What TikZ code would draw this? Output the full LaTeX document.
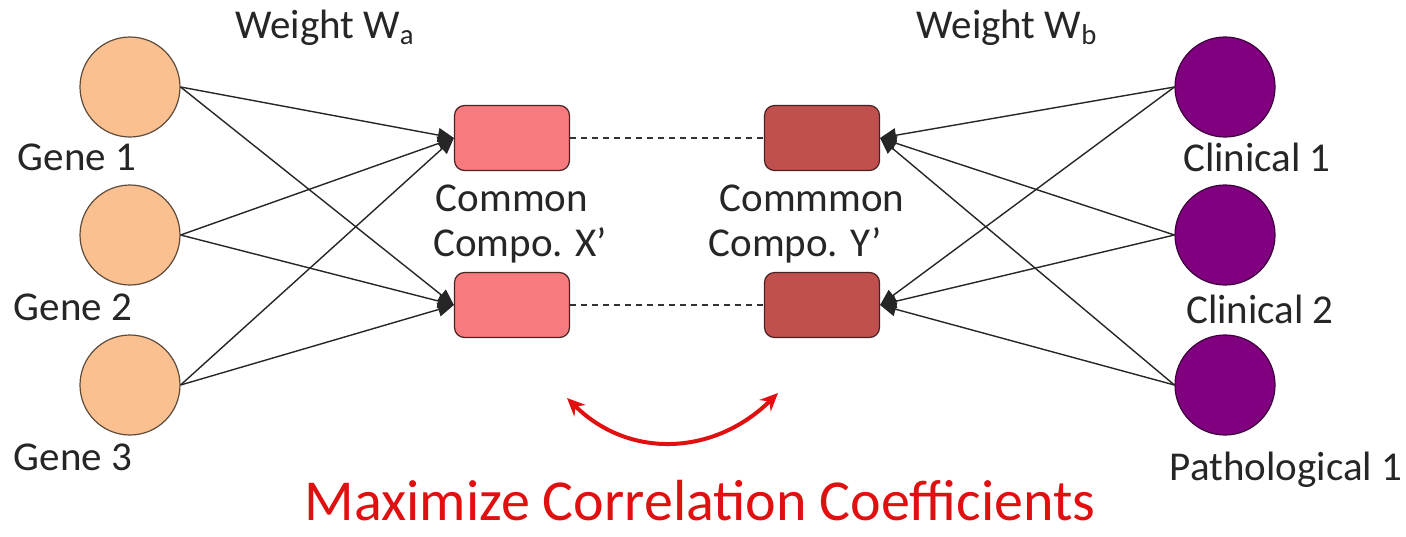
\documentclass[tikz,border=0pt]{standalone}
\usepackage{fontspec}
\setmainfont{Carlito}
\usetikzlibrary{arrows.meta}
\definecolor{geneor}{HTML}{FAC08F}
\definecolor{geneline}{HTML}{5E4B3C}
\definecolor{boxa}{HTML}{F77B7E}
\definecolor{boxb}{HTML}{C0504D}
\definecolor{boxline}{HTML}{4A2222}
\definecolor{purp}{HTML}{800080}
\definecolor{purpline}{HTML}{3D003D}
\definecolor{txt}{HTML}{262626}
\definecolor{redc}{HTML}{E01010}
\tikzset{
  genenode/.style={circle,draw=geneline,line width=0.6pt,fill=geneor,minimum size=50pt,inner sep=0pt},
  clinnode/.style={circle,draw=purpline,line width=0.6pt,fill=purp,minimum size=50pt,inner sep=0pt},
  compbox/.style={rectangle,rounded corners=5pt,draw=boxline,line width=0.6pt,minimum width=57.5pt,minimum height=32.5pt,inner sep=0pt},
  lbl/.style={text=txt,font=\fontsize{20.5}{24}\selectfont,inner sep=0pt},
  wire/.style={draw=black!85,line width=0.7pt,-{Triangle[length=8pt,width=7pt]}},
  dashline/.style={draw=black!80,line width=0.65pt,dash pattern=on 3pt off 2.5pt}
}
\begin{document}
\begin{tikzpicture}[x=0.5pt,y=-0.5pt]
\useasboundingbox[fill=white] (0,0) rectangle (1406,536);
% gene nodes
\node[genenode] (g1) at (130,87) {};
\node[genenode] (g2) at (130,235) {};
\node[genenode] (g3) at (130,385) {};
\node[lbl] (lg1) at (77,157) {Gene 1};
\node[lbl] (lg2) at (73,307) {Gene 2};
\node[lbl] (lg3) at (73,457) {Gene 3};
% clinical nodes
\node[clinnode] (c1) at (1225,87) {};
\node[clinnode] (c2) at (1225,235) {};
\node[clinnode] (c3) at (1225,385) {};
\node[lbl] (lc1) at (1257,157) {Clinical 1};
\node[lbl] (lc2) at (1260,309) {Clinical 2};
\node[lbl] (lc3) at (1286,470) {Pathological 1};
% component boxes
\node[compbox,fill=boxa] (x1) at (512,138) {};
\node[compbox,fill=boxa] (x2) at (512,305) {};
\node[compbox,fill=boxb] (y1) at (822,138) {};
\node[compbox,fill=boxb] (y2) at (822,305) {};
\node[lbl] (lx1) at (512,198) {Common};
\node[lbl] (lx2) at (520,245) {Compo. X’};
\node[lbl] (ly1) at (812,198) {Commmon};
\node[lbl] (ly2) at (795,245) {Compo. Y’};
% weights
\node[lbl] (wa) at (325,28) {Weight W\textsubscript{a}};
\node[lbl] (wb) at (1007,28) {Weight W\textsubscript{b}};
% connectors left
\foreach \g in {g1,g2,g3}{
  \draw[wire] (\g.east) -- (x1.west);
  \draw[wire] (\g.east) -- (x2.west);
}
% connectors right
\foreach \c in {c1,c2,c3}{
  \draw[wire] (\c.west) -- (y1.east);
  \draw[wire] (\c.west) -- (y2.east);
}
% dashed
\draw[dashline] (x1.east) -- (y1.west);
\draw[dashline] (x2.east) -- (y2.west);
% red arc
\coordinate (ra) at (567,398);
\coordinate (rb) at (778,393);
\draw[redc,line width=2pt,{Stealth[length=9pt,width=8pt]}-{Stealth[length=9pt,width=8pt]}] (ra) .. controls (630,460) and (715,455) .. (rb);
\node[text=redc,font=\fontsize{29}{34}\selectfont,inner sep=0pt] (mx) at (700,501) {Maximize Correlation Coefficients};
\end{tikzpicture}
\end{document}
